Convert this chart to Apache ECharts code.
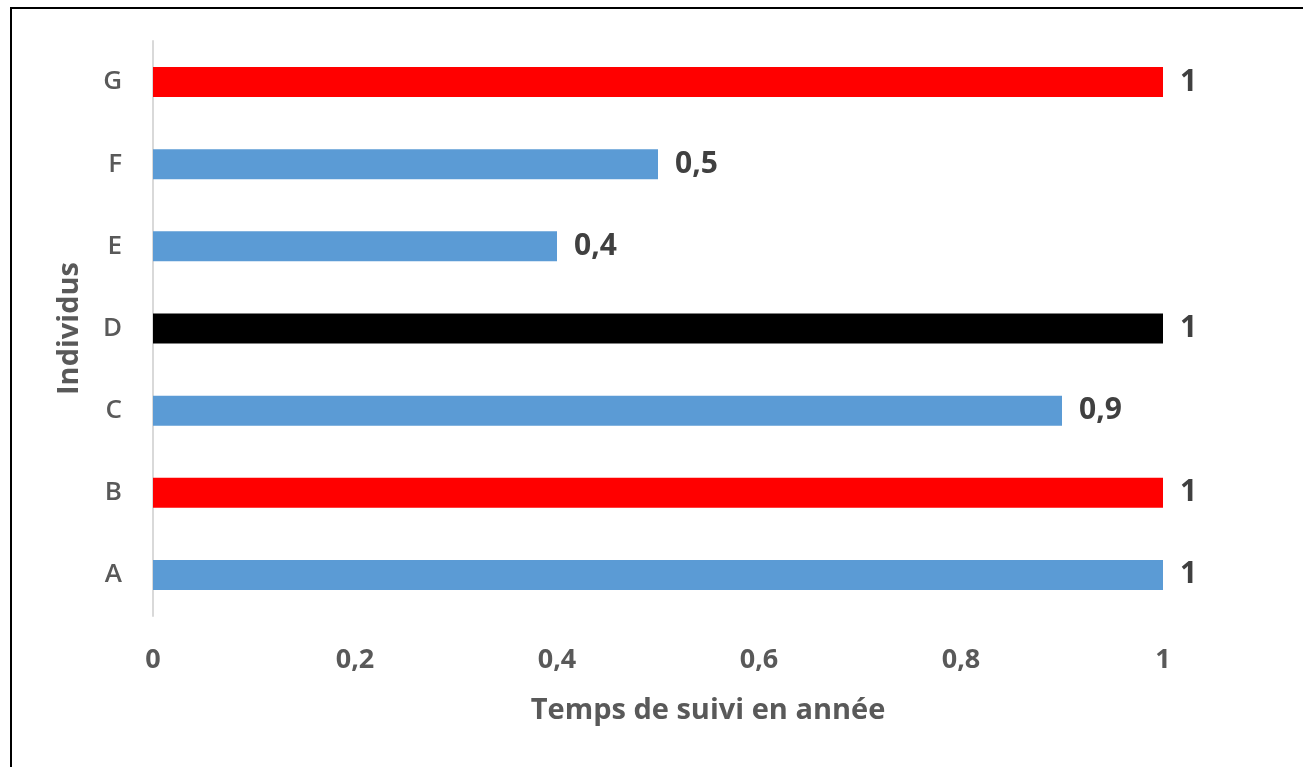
<!DOCTYPE html>
<html>
<head>
<meta charset="utf-8">
<script src="https://cdn.jsdelivr.net/npm/echarts@6/dist/echarts.min.js"></script>
<style>
html,body{margin:0;padding:0;background:#fff;}
#chart{width:1303px;height:767px;}
</style>
</head>
<body>
<div id="chart"></div>
<script>
const categories = ['A', 'B', 'C', 'D', 'E', 'F', 'G'];
const values = [1, 1, 0.9, 1, 0.4, 0.5, 1];
const barColors = ['#5B9BD5', '#FF0000', '#5B9BD5', '#000000', '#5B9BD5', '#5B9BD5', '#FF0000'];
const xTicks = [0, 0.2, 0.4, 0.6, 0.8, 1];
const xTitle = 'Temps de suivi en année';
const yTitle = 'Individus';

const fmt = v => String(v).replace('.', ',');
const FONT = '"Open Sans", "DejaVu Sans", sans-serif';

const chart = echarts.init(document.getElementById('chart'));
chart.setOption({
  animation: false,
  backgroundColor: '#ffffff',
  graphic: [{
    type: 'rect',
    shape: { x: 11, y: 8, width: 1400, height: 900 },
    style: { fill: 'none', stroke: '#000000', lineWidth: 2 },
    silent: true
  }],
  grid: { left: 153, top: 41, right: 140, bottom: 151 },
  xAxis: {
    type: 'value',
    min: 0,
    max: 1,
    interval: 0.2,
    name: xTitle,
    nameLocation: 'middle',
    nameGap: 80,
    nameTextStyle: { fontFamily: FONT, fontSize: 29, fontWeight: 'bold', color: '#595959', padding: [0, 0, 0, 100] },
    axisLine: { show: false },
    axisTick: { show: false },
    splitLine: { show: false },
    axisLabel: {
      fontFamily: FONT, fontSize: 27, fontWeight: 'bold', color: '#595959', margin: 31,
      formatter: v => xTicks.includes(Math.round(v * 10) / 10) ? fmt(Math.round(v * 10) / 10) : ''
    }
  },
  yAxis: {
    type: 'category',
    data: categories,
    name: yTitle,
    nameLocation: 'middle',
    nameGap: 69,
    nameRotate: 90,
    nameTextStyle: { fontFamily: FONT, fontSize: 29, fontWeight: 'bold', color: '#595959' },
    axisLine: { show: true, lineStyle: { color: '#D9D9D9', width: 2 } },
    axisTick: { show: false },
    axisLabel: { fontFamily: FONT, fontSize: 26, fontWeight: 600, color: '#595959', margin: 31 }
  },
  series: [{
    type: 'bar',
    data: values.map((v, i) => ({ value: v, itemStyle: { color: barColors[i] } })),
    barWidth: 30,
    label: {
      show: true,
      position: 'right',
      distance: 17,
      fontFamily: FONT,
      fontSize: 30,
      fontWeight: 'bold',
      color: '#404040',
      formatter: p => fmt(p.value)
    }
  }]
});
</script>
</body>
</html>
